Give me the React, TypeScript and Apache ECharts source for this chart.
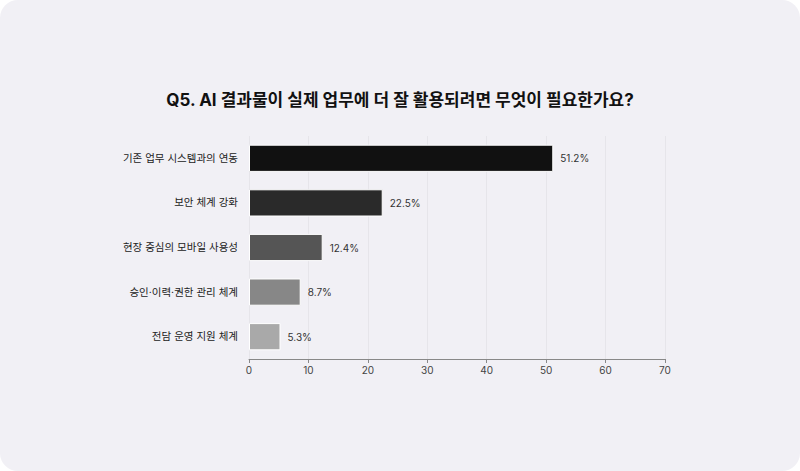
import { useEffect, useRef } from 'react';
import * as echarts from 'echarts';

const categories = [
  '기존 업무 시스템과의 연동',
  '보안 체계 강화',
  '현장 중심의 모바일 사용성',
  '승인·이력·권한 관리 체계',
  '전담 운영 지원 체계',
];
const values = [51.2, 22.5, 12.4, 8.7, 5.3];
const barColors = ['#111111', '#2a2a2a', '#555555', '#878787', '#a9a9a9'];

const FONT = 'Inter, "Noto Sans CJK KR", sans-serif';

export default function App() {
  const chartRef = useRef<HTMLDivElement>(null);

  useEffect(() => {
    document.body.style.margin = '0';
    document.body.style.background = '#ffffff';
    if (!chartRef.current) return;

    const chart = echarts.init(chartRef.current, null, { renderer: 'svg' });
    chart.setOption({
      animation: false,
      textStyle: { fontFamily: FONT },
      title: {
        text: 'Q5. AI 결과물이 실제 업무에 더 잘 활용되려면 무엇이 필요한가요?',
        left: 'center',
        top: 86,
        textStyle: { fontSize: 17, fontWeight: 'bold', color: '#111111', fontFamily: FONT },
      },
      grid: { left: 249, right: 135, top: 136, bottom: 112 },
      xAxis: {
        type: 'value',
        min: 0,
        max: 70,
        interval: 10,
        axisLine: { show: true, lineStyle: { color: '#888888' } },
        axisTick: { show: true, length: 4, lineStyle: { color: '#888888' } },
        axisLabel: { color: '#444444', fontSize: 10, margin: 6, fontFamily: FONT },
        splitLine: { show: true, lineStyle: { color: '#e6e5ea', width: 1 } },
      },
      yAxis: {
        type: 'category',
        inverse: true,
        data: categories,
        axisLine: { show: false },
        axisTick: { show: false },
        axisLabel: { color: '#222222', fontSize: 10.5, margin: 11, fontFamily: FONT },
      },
      series: [
        {
          type: 'bar',
          barWidth: '61%',
          data: values.map((v, i) => ({
            value: v,
            itemStyle: { color: barColors[i] },
          })),
          itemStyle: { borderColor: '#ffffff', borderWidth: 1 },
          label: {
            show: true,
            position: 'right',
            distance: 7,
            formatter: (p: any) => `${p.value}%`,
            color: '#333333',
            fontSize: 10,
            fontFamily: FONT,
          },
        },
      ],
    });

    return () => chart.dispose();
  }, []);

  return (
    <div
      style={{
        width: 800,
        height: 471,
        background: '#f1f0f5',
        borderRadius: 18,
        overflow: 'hidden',
      }}
    >
      <div ref={chartRef} style={{ width: 800, height: 471 }} />
    </div>
  );
}
